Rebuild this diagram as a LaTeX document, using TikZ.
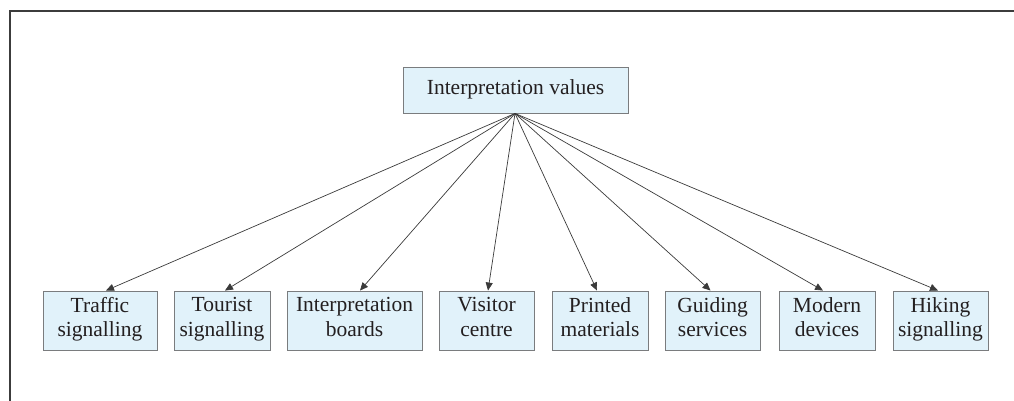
\documentclass[tikz,border=0pt]{standalone}
\usepackage{fontspec}
\setmainfont{Liberation Serif}
\usetikzlibrary{arrows.meta}
\definecolor{boxfill}{HTML}{E1F2FA}
\definecolor{boxline}{HTML}{7A7C7E}
\definecolor{txt}{HTML}{231F20}
\definecolor{frameline}{HTML}{3C3C3C}
\definecolor{arrowline}{HTML}{3A3A3A}
\tikzset{
  box/.style={draw=boxline, line width=0.9pt, fill=boxfill, text=txt, inner sep=0pt,
    align=center, font=\fontsize{21.5}{24.5}\selectfont,
    execute at begin node=\strut, execute at end node=\strut},
  bot/.style={box, minimum height=59pt},
  conn/.style={draw=arrowline, line width=0.7pt, -{Triangle[length=8pt,width=7pt]}},
}
\begin{document}
\begin{tikzpicture}[x=1pt,y=-1pt]
\useasboundingbox (0,0) rectangle (1014,401);
\draw[frameline, line width=2pt] (10,401) -- (10,11) -- (1014,11);
\node[box, minimum width=225pt, minimum height=46pt] (top) at (515.5,90) {Interpretation values};
\node[bot, minimum width=114pt] (b1) at (100,320.5) {Traffic\\signalling};
\node[bot, minimum width=96pt] (b2) at (222,320.5) {Tourist\\signalling};
\node[bot, minimum width=135pt] (b3) at (354.5,320.5) {Interpretation\\boards};
\node[bot, minimum width=95pt] (b4) at (486.5,320.5) {Visitor\\centre};
\node[bot, minimum width=96pt] (b5) at (600,320.5) {Printed\\materials};
\node[bot, minimum width=95pt] (b6) at (712.5,320.5) {Guiding\\services};
\node[bot, minimum width=96pt] (b7) at (827,320.5) {Modern\\devices};
\node[bot, minimum width=95pt] (b8) at (940.5,320.5) {Hiking\\signalling};
\coordinate (src) at ([xshift=-0.5pt]top.south);
\draw[conn] (src) -- ([xshift=6pt]b1.north);
\draw[conn] (src) -- ([xshift=3pt]b2.north);
\draw[conn] (src) -- ([xshift=5.5pt]b3.north);
\draw[conn] (src) -- ([xshift=1.5pt]b4.north);
\draw[conn] (src) -- ([xshift=-3pt]b5.north);
\draw[conn] (src) -- ([xshift=-2pt]b6.north);
\draw[conn] (src) -- ([xshift=-4pt]b7.north);
\draw[conn] (src) -- ([xshift=-2.5pt]b8.north);
\end{tikzpicture}
\end{document}
